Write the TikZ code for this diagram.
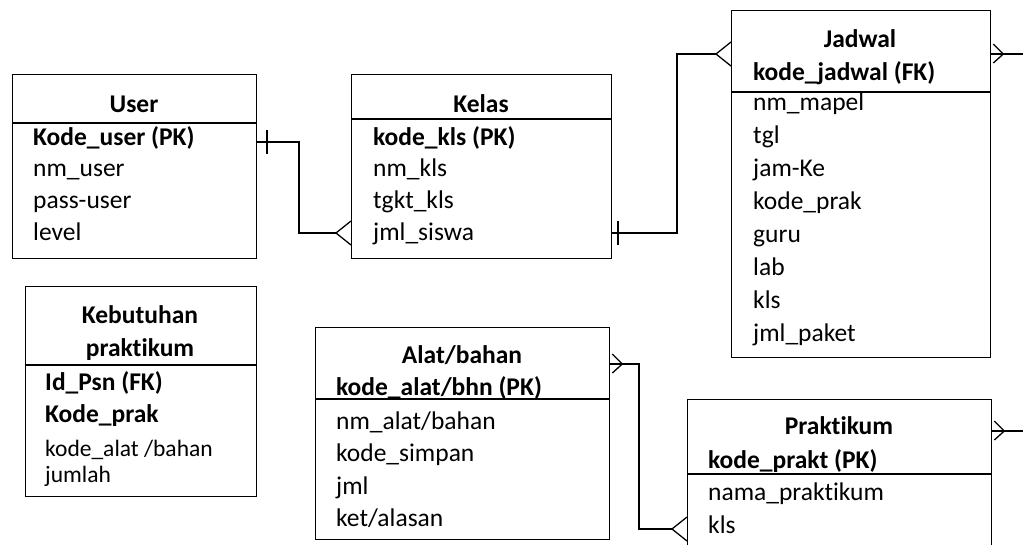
\documentclass[tikz,border=0pt]{standalone}
\usepackage{fontspec}
\setmainfont[RawFeature={-liga;-calt;-clig}]{Carlito}
\usetikzlibrary{calc}

\newcommand{\rowfont}{\fontsize{25.5}{30}\selectfont}
\newcommand{\smallrowfont}{\fontsize{23.5}{27}\selectfont}

\tikzset{
  entity/.style={draw, line width=1.3pt, inner sep=0pt, anchor=north west},
  ttl/.style={font=\rowfont\bfseries, anchor=base, inner sep=0pt},
  keyattr/.style={font=\rowfont\bfseries, anchor=base west, inner sep=0pt},
  attr/.style={font=\rowfont, anchor=base west, inner sep=0pt},
  smallattr/.style={font=\smallrowfont, anchor=base west, inner sep=0pt},
  conn/.style={line width=1.3pt},
  rule/.style={line width=1.3pt},
  crowL/.pic={\draw[conn] (0,-12) -- (-15,0) -- (0,12);},
  crowR/.pic={\draw[conn] (2,-10) -- (12,0) -- (2,9);},
  onebar/.pic={\draw[conn] (0,-12) -- (0,12);}
}

\begin{document}
\begin{tikzpicture}[x=1pt,y=-1pt]
\clip (0,0) rectangle (1023,544);
\fill[white] (0,0) rectangle (1023,544);

% ---- User ----
\node[entity, minimum width=244pt, minimum height=184pt] (user) at (12,74) {};
\draw[rule] (user.west |- 0,123) -- (user.east |- 0,123);
\node[ttl] (userT) at (134,112) {User};
\node[keyattr] (u1) at (33,145) {Kode\_user (PK)};
\node[attr] (u2) at (33,176) {nm\_user};
\node[attr] (u3) at (33,208) {pass-user};
\node[attr] (u4) at (33,240) {level};

% ---- Kelas ----
\node[entity, minimum width=260pt, minimum height=184pt] (kelas) at (351,74) {};
\draw[rule] (kelas.west |- 0,119) -- (kelas.east |- 0,119);
\node[ttl] (kelasT) at (481,112) {Kelas};
\node[keyattr] (k1) at (373,145) {kode\_kls (PK)};
\node[attr] (k2) at (373,176) {nm\_kls};
\node[attr] (k3) at (373,208) {tgkt\_kls};
\node[attr] (k4) at (373,240) {jml\_siswa};

% ---- Jadwal ----
\node[entity, minimum width=259pt, minimum height=347pt] (jadwal) at (731,10) {};
\draw[rule] (jadwal.west |- 0,92) -- (jadwal.east |- 0,92);
\node[ttl] (jadwalT) at (860,47) {Jadwal};
\node[keyattr] (j0) at (753,80) {kode\_jadwal (FK)};
\node[attr] (j1) at (753,110) {nm\_mapel};
\node[attr] (j2) at (753,143) {tgl};
\node[attr] (j3) at (753,176) {jam-Ke};
\node[attr] (j4) at (753,209) {kode\_prak};
\node[attr] (j5) at (753,242) {guru};
\node[attr] (j6) at (753,275) {lab};
\node[attr] (j7) at (753,308) {kls};
\node[attr] (j8) at (753,341) {jml\_paket};

% ---- Kebutuhan praktikum ----
\node[entity, minimum width=231pt, minimum height=210pt] (kebutuhan) at (25,286) {};
\draw[rule] (kebutuhan.west |- 0,365) -- (kebutuhan.east |- 0,365);
\node[ttl] (kebT1) at (140,323) {Kebutuhan};
\node[ttl] (kebT2) at (140,356) {praktikum};
\node[keyattr] (b1) at (45,390) {Id\_Psn (FK)};
\node[keyattr] (b2) at (45,422) {Kode\_prak};
\node[smallattr] (b3) at (45,456) {kode\_alat /bahan};
\node[smallattr] (b4) at (45,482) {jumlah};

% ---- Alat/bahan ----
\node[entity, minimum width=294pt, minimum height=212pt] (alat) at (315,327) {};
\draw[rule] (alat.west |- 0,399) -- (alat.east |- 0,399);
\node[ttl] (alatT) at (462,363) {Alat/bahan};
\node[keyattr] (a0) at (336,395) {kode\_alat/bhn (PK)};
\node[attr] (a1) at (336,429) {nm\_alat/bahan};
\node[attr] (a2) at (336,461) {kode\_simpan};
\node[attr] (a3) at (336,494) {jml};
\node[attr] (a4) at (336,526) {ket/alasan};

% ---- Praktikum ----
\node[entity, minimum width=304pt, minimum height=180pt] (prak) at (687,399) {};
\draw[rule] (prak.west |- 0,474) -- (prak.east |- 0,474);
\node[ttl] (prakT) at (839,434) {Praktikum};
\node[keyattr] (p0) at (708,468) {kode\_prakt (PK)};
\node[attr] (p1) at (708,500) {nama\_praktikum};
\node[attr] (p2) at (708,533) {kls};

% ---- Relationships ----
% User (one) -- Kelas (many)
\draw[conn] (user.east |- 0,142) -- (299,142) |- ($(kelas.west |- 0,233)+(-15,0)$);
\pic at (267,142) {onebar};
\pic at (kelas.west |- 0,233) {crowL};

% Kelas (one) -- Jadwal (many)
\draw[conn] (kelas.east |- 0,233) -- (677,233) |- ($(jadwal.west |- 0,54)+(-15,0)$);
\pic at (618,233) {onebar};
\pic at (jadwal.west |- 0,54) {crowL};

% Jadwal (many) -- beyond the right edge
\coordinate (jout) at (1030,54);
\draw[conn] (jadwal.east |- 0,54) -- (jout);
\pic at (jadwal.east |- 0,54) {crowR};

% Alat/bahan (many) -- Praktikum (many)
\draw[conn] (alat.east |- 0,364) -- (639,364) |- ($(prak.west |- 0,529)+(-15,0)$);
\pic at (alat.east |- 0,364) {crowR};
\pic at (prak.west |- 0,529) {crowL};

% Praktikum (many) -- beyond the right edge
\coordinate (pout) at (1030,431);
\draw[conn] (prak.east |- 0,431) -- (pout);
\pic at (prak.east |- 0,431) {crowR};
\end{tikzpicture}
\end{document}
